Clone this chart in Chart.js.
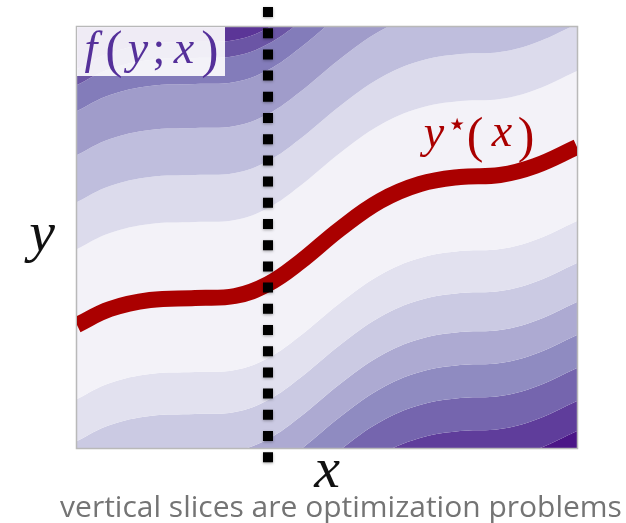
<!DOCTYPE html>
<html>
<head>
<meta charset="utf-8">
<script src="https://cdn.jsdelivr.net/npm/chart.js@4.4.1/dist/chart.umd.min.js"></script>
<style>
  html, body { margin: 0; padding: 0; background: #ffffff; }
  #wrap { width: 626px; height: 523px; }
</style>
</head>
<body>
<div id="wrap"><canvas id="c" width="626" height="523"></canvas></div>
<script>
// ---- data ----
// x positions (0..10) and the optimum curve y*(x) (y axis 0..8.42)
const xVals     = [0, 0.66, 1.46, 2.36, 3.16, 3.82, 4.46, 5.26, 6.06, 6.86, 7.66, 8.46, 9.16, 10];
const yStarVals = [2.46, 2.78, 2.96, 3.00, 3.04, 3.28, 3.72, 4.38, 4.94, 5.28, 5.42, 5.46, 5.64, 6.02];
// contour levels of f(y;x): distance of each band boundary above / below y*(x)
const levelsAbove = [1.52, 2.46, 3.40, 4.28, 4.80, 5.12];
const levelsBelow = [1.48, 2.32, 3.10, 3.76, 4.42, 5.08, 5.68];
// band colours: centre band, bands above (outward), bands below (outward)
const centerColor = '#f3f2f8';
const colorsAbove = ['#dcdbec', '#bfbedd', '#a09cca', '#837cba', '#6b55a5', '#5b3597'];
const colorsBelow = ['#e2e1ef', '#cbcae3', '#adaad2', '#8f8bc1', '#7565ae', '#5f3d9b', '#4b1687'];
// vertical slice
const sliceX = 3.82;
const sliceY = [8.82, -0.38];
// texts
const fLabel = ['f', '(', 'y', ';', 'x', ')'];
const starLabel = ['y', '\u2605', '(', 'x', ')'];
const yAxisLabel = 'y';
const xAxisLabel = 'x';
const caption = 'vertical slices are optimization problems';

// ---- datasets ----
const curve = (off) => xVals.map((x, i) => ({ x: x, y: yStarVals[i] + off }));
const datasets = [];
const common = { borderWidth: 0, pointRadius: 0, tension: 0.4, order: 10 };
// band boundaries from top to bottom
for (let k = levelsAbove.length - 1; k >= 0; k--) {
  const isTop = (k === levelsAbove.length - 1);
  datasets.push(Object.assign({}, common, {
    label: 'a' + k,
    data: curve(levelsAbove[k]),
    backgroundColor: isTop ? colorsAbove[k] : colorsAbove[k],
    fill: isTop ? 'end' : '-1'
  }));
}
for (let k = 0; k < levelsBelow.length; k++) {
  datasets.push(Object.assign({}, common, {
    label: 'b' + k,
    data: curve(-levelsBelow[k]),
    backgroundColor: k === 0 ? centerColor : colorsBelow[k - 1],
    fill: '-1'
  }));
}
datasets.push(Object.assign({}, common, {
  label: 'bottom',
  data: curve(-levelsBelow[levelsBelow.length - 1]),
  backgroundColor: colorsBelow[levelsBelow.length - 1],
  fill: 'start'
}));
datasets.push({
  label: 'ystar',
  data: curve(0),
  borderColor: '#aa0000',
  borderWidth: 16,
  pointRadius: 0,
  fill: false,
  tension: 0.4,
  borderCapStyle: 'butt',
  order: 2
});
datasets.push({
  label: 'slice',
  data: sliceY.map(y => ({ x: sliceX, y: y })),
  borderColor: '#000000',
  borderWidth: 10,
  borderDash: [10, 11.2],
  borderCapStyle: 'butt',
  pointRadius: 0,
  fill: false,
  clip: false,
  order: 1
});

const SERIF = '"Liberation Serif", "DejaVu Serif", serif';

const decor = {
  id: 'decor',
  beforeDatasetDraw(chart, args) {
    const ctx = chart.ctx;
    const a = chart.chartArea;
    if (args.meta.label === 'ystar') {
      // frame
      ctx.save();
      ctx.strokeStyle = '#b9b9b9';
      ctx.lineWidth = 1.5;
      ctx.strokeRect(a.left - 0.5, a.top - 0.5, a.right - a.left + 1, a.bottom - a.top + 1);
      // label box f(y;x)
      ctx.fillStyle = 'rgba(255,255,255,0.9)';
      ctx.fillRect(a.left, a.top, 148, 49);
      ctx.fillStyle = '#55309a';
      ctx.textAlign = 'center';
      ctx.textBaseline = 'alphabetic';
      const fx = [91, 114, 138, 159, 184, 210];
      const italic = [true, false, true, false, true, false];
      const size = [46, 52, 46, 46, 46, 52];
      const base = [63, 67, 63, 63, 63, 67];
      fLabel.forEach((t, i) => {
        ctx.font = (italic[i] ? 'italic ' : '') + size[i] + 'px ' + SERIF;
        ctx.fillText(t, fx[i], base[i]);
      });
      ctx.restore();
    }
    if (args.meta.label === 'slice') {
      ctx.save();
      ctx.shadowColor = 'rgba(0,0,0,0.35)';
      ctx.shadowBlur = 3;
      ctx.shadowOffsetY = 1;
    }
  },
  afterDatasetDraw(chart, args) {
    if (args.meta.label === 'slice') chart.ctx.restore();
  },
  afterDraw(chart) {
    const ctx = chart.ctx;
    ctx.save();
    ctx.textAlign = 'center';
    ctx.textBaseline = 'alphabetic';
    // y*(x) label
    ctx.fillStyle = '#aa0000';
    ctx.font = 'italic 46px ' + SERIF;
    ctx.fillText(starLabel[0], 434, 147);
    ctx.font = '17px "DejaVu Sans", sans-serif';
    ctx.fillText(starLabel[1], 457, 130);
    ctx.font = '50px ' + SERIF;
    ctx.fillText(starLabel[2], 475, 152);
    ctx.font = 'italic 46px ' + SERIF;
    ctx.fillText(starLabel[3], 502, 146);
    ctx.font = '50px ' + SERIF;
    ctx.fillText(starLabel[4], 526, 152);
    // axis labels
    ctx.fillStyle = '#111111';
    ctx.font = 'italic 58px ' + SERIF;
    ctx.fillText(yAxisLabel, 42, 251);
    ctx.fillText(xAxisLabel, 327, 487);
    // caption
    ctx.fillStyle = '#747474';
    ctx.font = '30px "Open Sans", sans-serif';
    ctx.fillText(caption, 341, 517);
    ctx.restore();
  }
};

new Chart(document.getElementById('c'), {
  type: 'line',
  data: { datasets: datasets },
  options: {
    responsive: false,
    animation: false,
    events: [],
    layout: { padding: { left: 77, top: 27, right: 49, bottom: 75 } },
    plugins: { legend: { display: false }, tooltip: { enabled: false }, filler: { propagate: false } },
    scales: {
      x: { type: 'linear', min: 0, max: 10, display: false },
      y: { type: 'linear', min: 0, max: 8.42, display: false }
    }
  },
  plugins: [decor]
});
</script>
</body>
</html>
